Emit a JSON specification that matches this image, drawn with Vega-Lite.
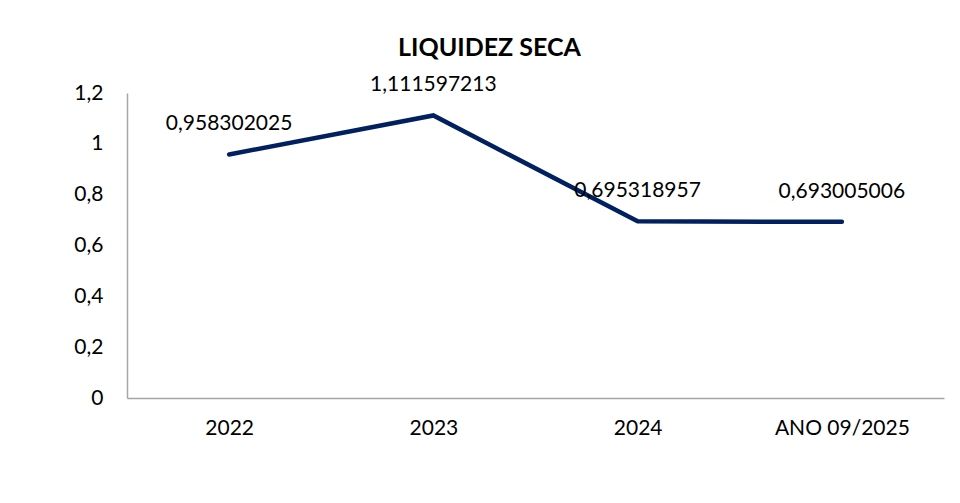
{
  "$schema": "https://vega.github.io/schema/vega-lite/v6.json",
  "autosize": "none",
  "width": 817,
  "height": 305,
  "padding": {"left": 127, "top": 93, "right": 16, "bottom": 105},
  "background": "white",
  "title": {
    "text": "LIQUIDEZ SECA",
    "font": "Lato",
    "fontSize": 25,
    "fontWeight": "bold",
    "color": "#000000",
    "anchor": "middle",
    "frame": "group",
    "dx": -46,
    "dy": 45,
    "baseline": "alphabetic",
    "offset": 38
  },
  "data": {
    "values": [
      {"periodo": "2022", "valor": 0.958302025, "label": "0,958302025"},
      {"periodo": "2023", "valor": 1.111597213, "label": "1,111597213"},
      {"periodo": "2024", "valor": 0.695318957, "label": "0,695318957"},
      {"periodo": "ANO 09/2025", "valor": 0.693005006, "label": "0,693005006"}
    ]
  },
  "encoding": {
    "x": {
      "field": "periodo",
      "type": "ordinal",
      "sort": null,
      "scale": {"type": "point", "padding": 0.5},
      "axis": {
        "title": null,
        "labelAngle": 0,
        "ticks": false,
        "domain": true,
        "domainColor": "#a6a6a6",
        "domainWidth": 1.5,
        "labelFont": "Lato",
        "labelFontSize": 21,
        "labelColor": "#000000",
        "labelPadding": 19,
        "grid": false
      }
    },
    "y": {
      "field": "valor",
      "type": "quantitative",
      "scale": {"domain": [0, 1.2], "nice": false},
      "axis": {
        "title": null,
        "values": [0, 0.2, 0.4, 0.6, 0.8, 1, 1.2],
        "labelExpr": "replace(format(datum.value, '~g'), '.', ',')",
        "ticks": false,
        "domain": true,
        "domainColor": "#a6a6a6",
        "domainWidth": 1.5,
        "labelFont": "Lato",
        "labelFontSize": 21,
        "labelColor": "#000000",
        "labelPadding": 24,
        "grid": false
      }
    }
  },
  "layer": [
    {
      "mark": {"type": "line", "color": "#002060", "strokeWidth": 4.5, "strokeCap": "round", "strokeJoin": "miter"}
    },
    {
      "mark": {"type": "text", "font": "Lato", "fontSize": 21, "color": "#000000", "dy": -30, "baseline": "middle"},
      "encoding": {"text": {"field": "label"}}
    }
  ],
  "config": {"view": {"stroke": null}}
}
